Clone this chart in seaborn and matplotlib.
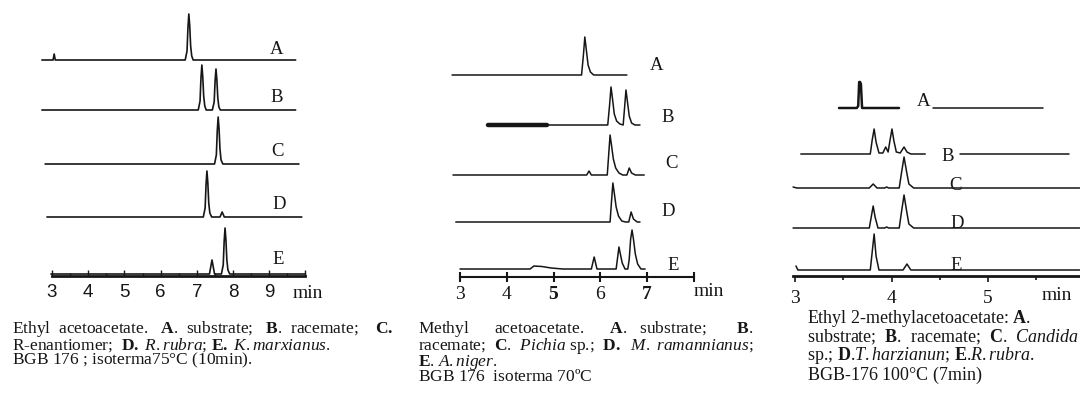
import numpy as np
import matplotlib
matplotlib.use("Agg")
import matplotlib.pyplot as plt
import seaborn as sns

# ---- data: retention time (min) and detector signal ----
# Ethyl acetoacetate (left panel)
eaa_A_t = [2.72, 3.03, 3.06, 3.09, 6.68, 6.73, 6.755, 6.78, 6.805, 6.83, 6.86, 6.90, 9.73]
eaa_A_s = [0, 0, 6, 0, 0, 9, 32, 46, 34, 14, 4, 0, 0]
eaa_B_t = [2.72, 7.04, 7.09, 7.115, 7.14, 7.165, 7.19, 7.22, 7.26,
           7.43, 7.48, 7.505, 7.53, 7.555, 7.58, 7.61, 7.65, 9.73]
eaa_B_s = [0, 0, 9, 32, 45, 33, 14, 4, 0, 0, 8, 29, 41, 30, 12, 3, 0, 0]
eaa_C_t = [2.81, 7.49, 7.54, 7.565, 7.59, 7.615, 7.64, 7.67, 7.72, 9.82]
eaa_C_s = [0, 0, 9, 33, 47, 35, 15, 4, 0, 0]
eaa_D_t = [2.86, 7.18, 7.23, 7.255, 7.28, 7.305, 7.33, 7.36, 7.41, 7.64, 7.70, 7.76, 9.90]
eaa_D_s = [0, 0, 9, 32, 46, 34, 14, 4, 0, 0, 5, 0, 0]
eaa_E_t = [2.97, 7.35, 7.395, 7.42, 7.445, 7.49, 7.68, 7.73, 7.755, 7.78, 7.805, 7.83, 7.86, 7.91, 10.0]
eaa_E_s = [0, 0, 9, 14, 9, 0, 0, 9, 32, 46, 34, 14, 4, 0, 0]

# Methyl acetoacetate (middle panel)
maa_A_t = [2.83, 5.60, 5.64, 5.67, 5.70, 5.74, 5.79, 5.86, 6.57]
maa_A_s = [0, 0, 20, 38, 26, 10, 3, 0, 0]
maa_Bband_t = [3.6, 4.86]
maa_Bband_s = [0, 0]
maa_B_t = [3.6, 6.16, 6.20, 6.23, 6.26, 6.30, 6.35, 6.42, 6.49,
           6.52, 6.55, 6.58, 6.62, 6.67, 6.74, 6.85]
maa_B_s = [0, 0, 20, 38, 27, 11, 4, 1, 0, 17, 35, 24, 9, 2, 0, 0]
maa_C_t = [2.85, 5.71, 5.76, 5.81, 6.15, 6.18, 6.21, 6.24, 6.28, 6.33, 6.40, 6.48,
           6.57, 6.62, 6.67, 6.75, 6.94]
maa_C_s = [0, 0, 4, 0, 0, 20, 40, 30, 16, 7, 2, 0, 0, 7, 2, 0, 0]
maa_D_t = [2.91, 6.21, 6.24, 6.27, 6.30, 6.34, 6.39, 6.46, 6.54, 6.61, 6.66, 6.71, 6.79, 6.85]
maa_D_s = [0, 0, 20, 39, 29, 15, 6, 1, 0, 0, 10, 3, 0, 0]
maa_E_t = [3.0, 4.50, 4.58, 4.75, 4.95, 5.20, 5.81, 5.87, 5.93,
           6.34, 6.37, 6.40, 6.43, 6.47, 6.53, 6.59, 6.62, 6.65, 6.68, 6.71, 6.75, 6.80, 6.87, 6.96]
maa_E_s = [0, 0, 3, 2.5, 1, 0, 0, 12, 0, 0, 11, 22, 15, 6, 0, 0, 10, 30, 39, 30, 15, 5, 0, 0]

# Ethyl 2-methylacetoacetate (right panel)
ema_A_t = [3.456, 3.64, 3.655, 3.665, 3.674, 3.683, 3.695, 4.078]
ema_A_s = [0, 0, 2, 26, 26, 24, 0, 0]
ema_A2_t = [4.43, 5.57]
ema_A2_s = [0, 0]
ema_B_t = [3.06, 3.78, 3.80, 3.82, 3.84, 3.87, 3.91, 3.94, 3.965, 3.985, 4.005, 4.025,
           4.05, 4.09, 4.13, 4.16, 4.20, 4.35]
ema_B_s = [0, 0, 14, 25, 12, 1, 1, 7, 2, 14, 25, 13, 2, 1, 7, 2, 0, 0]
ema_B2_t = [4.71, 5.84]
ema_B2_s = [0, 0]
ema_C_t = [2.98, 3.02, 3.77, 3.81, 3.85, 3.93, 3.95, 3.97, 4.08, 4.105, 4.13, 4.155, 4.18, 4.23, 5.95]
ema_C_s = [1, 0, 0, 4, 0, 0, 1, 0, 0, 16, 31, 17, 4, 0, 0]
ema_D_t = [2.98, 3.77, 3.79, 3.81, 3.83, 3.86, 3.93, 3.95, 3.97, 4.08, 4.105, 4.13, 4.155, 4.18, 4.23, 5.95]
ema_D_s = [0, 0, 11, 22, 11, 0, 0, 1, 0, 0, 17, 33, 18, 4, 0, 0]
ema_E_t = [3.01, 3.03, 3.78, 3.80, 3.82, 3.84, 3.87, 4.12, 4.16, 4.20, 5.95]
ema_E_s = [4, 0, 0, 18, 36, 14, 0, 0, 6, 0, 0]

trace_names = ["A", "B", "C", "D", "E"]

# captions (mathtext for bold / italic parts; every line carries some math so
# all lines get the same height and spacing)
cap_eaa = ("Ethyl  acetoacetate.   $\\mathbf{A}$.  substrate;   $\\mathbf{B}$.  racemate;    $\\mathbf{C.}$\n"
           "R-enantiomer;  $\\mathbf{D.}$ $\\mathit{R.rubra}$; $\\mathbf{E.}$ $\\mathit{K.marxianus}$.\n"
           "BGB 176 ; isoterma75°C (10min)$\\mathrm{.}$")
cap_maa = ("Methyl      acetoacetate.      $\\mathbf{A}$.   substrate;       $\\mathbf{B}$.\n"
           "racemate;  $\\mathbf{C}$.  $\\mathit{Pichia}$ sp.;  $\\mathbf{D.}$  $\\mathit{M.\\ ramannianus}$;\n"
           "$\\mathbf{E}$. $\\mathit{A.niger}$.\n"
           "BGB 176  isoterma 70ºC$\\mathrm{}$")
cap_ema = ("Ethyl 2-methylacetoacetate: $\\mathbf{A}$.\n"
           "substrate;  $\\mathbf{B}$.  racemate;  $\\mathbf{C}$.  $\\mathit{Candida}$\n"
           "sp.; $\\mathbf{D}$.$\\mathit{T.harzianun}$; $\\mathbf{E}$.$\\mathit{R.rubra}$.\n"
           "BGB-176 100°C (7min$\\mathrm{)}$")

# ---- style ----
sns.set_theme(style="white")
plt.rcParams["font.family"] = ["Liberation Serif", "DejaVu Serif"]
plt.rcParams["mathtext.fontset"] = "custom"
plt.rcParams["mathtext.rm"] = "Liberation Serif"
plt.rcParams["mathtext.it"] = "Liberation Serif:italic"
plt.rcParams["mathtext.bf"] = "Liberation Serif:bold"

INK = "#161616"
W, H = 1080, 397
fig = plt.figure(figsize=(W / 100, H / 100), dpi=100)


def fx(x):
    return x / W


def fy(y):
    return 1 - y / H


def make_axes(left, right, x3, scale, axis_y):
    # axes in pixel space; x3 = pixel of t=3 min, scale = px per min
    ax = fig.add_axes([fx(left), fy(axis_y), (right - left) / W, axis_y / H])
    ax.set_xlim(3 + (left - x3) / scale, 3 + (right - x3) / scale)
    ax.set_ylim(0, axis_y)
    for side in ["top", "right", "left"]:
        ax.spines[side].set_visible(False)
    ax.set_yticks([])
    ax.patch.set_alpha(0)
    return ax


def trace(ax, t, s, base, lw=1.1):
    sns.lineplot(x=t, y=np.asarray(s, float) + base, ax=ax, estimator=None,
                 sort=False, color=INK, lw=lw)


# ---- left panel ----
ax1 = make_axes(20, 330, 52, 36.2, 276)
base1 = [216, 166, 112, 59, 2]
for (t, s), b in zip([(eaa_A_t, eaa_A_s), (eaa_B_t, eaa_B_s), (eaa_C_t, eaa_C_s),
                      (eaa_D_t, eaa_D_s), (eaa_E_t, eaa_E_s)], base1):
    trace(ax1, t, s, b, lw=1.2)
ax1.spines["bottom"].set_bounds(3, 10)
ax1.spines["bottom"].set_linewidth(2.0)
ax1.spines["bottom"].set_color(INK)
ax1.set_xticks(range(3, 11))
ax1.set_xticklabels([str(v) for v in range(3, 10)] + [""], family="Liberation Sans", fontsize=13.5)
ax1.set_xticks(np.arange(3.5, 10, 0.5), minor=True)
ax1.tick_params(axis="x", which="major", direction="in", length=4, width=1, color=INK,
                pad=6, labelcolor=INK, bottom=True)
ax1.tick_params(axis="x", which="minor", direction="in", length=2.5, width=1, color=INK, bottom=True)
fig.text(fx(308), fy(293), "min", ha="center", va="center", fontsize=14, color=INK)
for name, (x, y) in zip(trace_names, [(277, 49), (277, 97), (277, 152), (279, 205), (278, 260)]):
    fig.text(fx(x), fy(y), name, ha="center", va="center", fontsize=13.5, color=INK)

# ---- middle panel ----
ax2 = make_axes(440, 720, 460, 46.75, 277)
base2 = [202, 152, 102, 55, 8]
sns.lineplot(x=maa_Bband_t, y=np.asarray(maa_Bband_s, float) + base2[1], ax=ax2,
             estimator=None, sort=False, color=INK, lw=3.2, solid_capstyle="round")
for (t, s), b in zip([(maa_A_t, maa_A_s), (maa_B_t, maa_B_s), (maa_C_t, maa_C_s),
                      (maa_D_t, maa_D_s), (maa_E_t, maa_E_s)], base2):
    trace(ax2, t, s, b, lw=1.1)
ax2.spines["bottom"].set_bounds(3, 8)
ax2.spines["bottom"].set_linewidth(1.5)
ax2.spines["bottom"].set_color(INK)
ax2.set_xticks(range(3, 9))
ax2.set_xticklabels(["3", "4", "5", "6", "7", ""], fontsize=14)
for lab in ax2.get_xticklabels():
    if lab.get_text() in ("5", "7"):
        lab.set_fontweight("bold")
ax2.tick_params(axis="x", which="major", direction="inout", length=7, width=1.5, color=INK,
                pad=3, labelcolor=INK, bottom=True)
fig.text(fx(694), fy(292), "min", ha="left", va="center", fontsize=14, color=INK)
for name, (x, y) in zip(trace_names, [(657, 65), (668, 118), (672, 163), (668, 212), (673, 265)]):
    fig.text(fx(x), fy(y), name, ha="center", va="center", fontsize=13.5, color=INK)

# ---- right panel ----
ax3 = make_axes(780, 1080, 795, 96.5, 276)
base3 = [168, 122, 88, 48, 6]
trace(ax3, ema_A_t, ema_A_s, base3[0], lw=1.8)
trace(ax3, ema_A2_t, ema_A2_s, base3[0])
trace(ax3, ema_B2_t, ema_B2_s, base3[1])
for (t, s), b in zip([(ema_B_t, ema_B_s), (ema_C_t, ema_C_s),
                      (ema_D_t, ema_D_s), (ema_E_t, ema_E_s)], base3[1:]):
    trace(ax3, t, s, b)
ax3.spines["bottom"].set_bounds(2.98, 6)
ax3.spines["bottom"].set_linewidth(2.0)
ax3.spines["bottom"].set_color(INK)
ax3.set_xticks([3, 4, 5])
ax3.set_xticklabels(["3", "4", "5"], fontsize=14)
ax3.set_xticks([3.5, 4.5, 5.5], minor=True)
ax3.tick_params(axis="x", which="major", direction="out", length=4, width=1.2, color=INK,
                pad=6, labelcolor=INK, bottom=True)
ax3.tick_params(axis="x", which="minor", direction="out", length=3, width=1.2, color=INK, bottom=True)
fig.text(fx(1057), fy(295), "min", ha="center", va="center", fontsize=14, color=INK)
for name, (x, y) in zip(trace_names, [(924, 102), (948, 157), (955, 186), (957, 223), (956, 265)]):
    fig.text(fx(x), fy(y), name, ha="center", va="center", fontsize=13.5, color=INK)

# ---- captions ----
fig.text(fx(12), fy(319), cap_eaa, ha="left", va="top", fontsize=12.5,
         linespacing=0.78, color=INK)
fig.text(fx(418), fy(319), cap_maa, ha="left", va="top", fontsize=12.5,
         linespacing=0.78, color=INK)
fig.text(fx(807), fy(308), cap_ema, ha="left", va="top", fontsize=13,
         linespacing=0.9, color=INK)

fig.savefig("out.png", dpi=100, facecolor="white")
